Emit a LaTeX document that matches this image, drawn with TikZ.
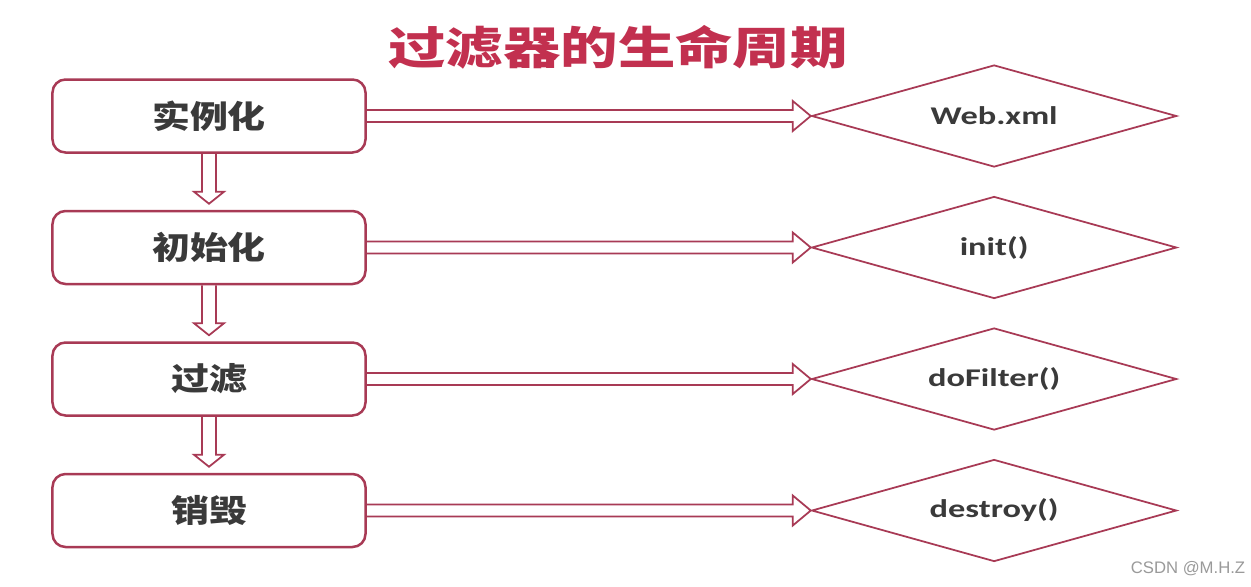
\documentclass[tikz,border=0pt]{standalone}
\usepackage{fontspec}
\newfontfamily\titlefont{Noto Sans CJK SC}[FakeStretch=1.28]
\newfontfamily\boxfont{Noto Sans CJK SC}[FakeStretch=1.2]
\newfontfamily\codefont{Carlito}[FakeStretch=1.35]
\newfontfamily\markfont{Liberation Sans}
\usepackage{xcolor}
\definecolor{Crimson}{HTML}{A83A55}
\definecolor{Rose}{HTML}{C2304F}
\definecolor{Ink}{HTML}{3A3A3A}
\definecolor{Mist}{HTML}{9A9A9A}
\colorlet{crimson}{Crimson}
\colorlet{rose}{Rose}
\colorlet{ink}{Ink}
\colorlet{mist}{Mist}
\usepackage{tikz}
\usetikzlibrary{positioning,shapes.geometric}
\tikzset{
  stagebox/.style={draw=crimson,line width=0.5mm,fill=white,rounded corners=2.6mm,minimum width=62.6mm,minimum height=14.6mm,font=\boxfont\bfseries\fontsize{18}{20}\selectfont,text=ink},
  callbox/.style={draw=crimson,line width=0.35mm,fill=white,diamond,aspect=3.6,inner sep=0pt,minimum width=73mm,minimum height=20.4mm,font=\codefont\bfseries\fontsize{14.5}{16}\selectfont,text=ink},
  arrowline/.style={draw=crimson,line width=0.35mm,line join=miter}
}
\newcommand{\hollowright}[2]{\draw[arrowline] ([yshift=1.2mm]#1.east) -- ([xshift=-3.6mm,yshift=1.2mm]#2.west) -- ([xshift=-3.6mm,yshift=3mm]#2.west) -- (#2.west) -- ([xshift=-3.6mm,yshift=-3mm]#2.west) -- ([xshift=-3.6mm,yshift=-1.2mm]#2.west) -- ([yshift=-1.2mm]#1.east);}
\newcommand{\hollowdown}[2]{\draw[arrowline] ([xshift=-1.4mm]#1.south) -- ([xshift=-1.4mm,yshift=3.6mm]#2.north) -- ([xshift=-3mm,yshift=3.6mm]#2.north) -- ([yshift=1.2mm]#2.north) -- ([xshift=3mm,yshift=3.6mm]#2.north) -- ([xshift=1.4mm,yshift=3.6mm]#2.north) -- ([xshift=1.4mm]#1.south);}
\begin{document}
\begin{tikzpicture}[x=0.2mm,y=-0.2mm,every node/.style={align=center}]
\useasboundingbox[fill=white] (0,0) rectangle (1251,586);
\node[font=\titlefont\bfseries\fontsize{25.5}{28}\selectfont,text=rose] (title) at (618,47) {过滤器的生命周期};
% stages
\node[stagebox] (inst) at (209,116) {实例化};
\node[stagebox,below=11.2mm of inst] (init) {初始化};
\node[stagebox,below=11.2mm of init] (filt) {过滤};
\node[stagebox,below=11.2mm of filt] (dest) {销毁};
% methods
\node[callbox,right=88.8mm of inst] (webxml) {Web.xml};
\node[callbox,right=88.8mm of init] (initm) {init()};
\node[callbox,right=88.8mm of filt] (dofilt) {doFilter()};
\node[callbox,right=88.8mm of dest] (destm) {destroy()};
\hollowdown{inst}{init}\hollowdown{init}{filt}\hollowdown{filt}{dest}
\hollowright{inst}{webxml}\hollowright{init}{initm}\hollowright{filt}{dofilt}\hollowright{dest}{destm}
\node[font=\markfont\fontsize{9.5}{11}\selectfont,text=mist] (mark) at (1188,569) {CSDN @M.H.Z};
\end{tikzpicture}
\end{document}
